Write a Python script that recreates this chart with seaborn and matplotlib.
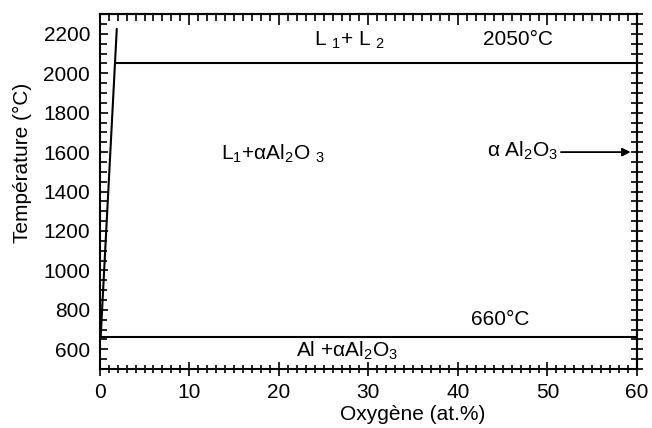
import matplotlib
matplotlib.use("Agg")
import matplotlib.pyplot as plt
import seaborn as sns
import pandas as pd
from matplotlib.ticker import MultipleLocator

sns.set_theme(style="white")
plt.rcParams['font.family'] = ['Liberation Sans', 'DejaVu Sans']
plt.rcParams['mathtext.fontset'] = 'custom'
plt.rcParams['mathtext.rm'] = 'Liberation Sans'
plt.rcParams['mathtext.it'] = 'Liberation Sans'
plt.rcParams['text.color'] = 'black'
plt.rcParams['axes.labelcolor'] = 'black'
plt.rcParams['xtick.color'] = 'black'
plt.rcParams['ytick.color'] = 'black'

# Data
liquidus_x = [0.1, 1.9]
liquidus_y = [660, 2225]
monotectic_x = [1.8, 60]
monotectic_y = [2050, 2050]
eutectic_x = [0, 60]
eutectic_y = [662, 662]
x_ticks = [0, 10, 20, 30, 40, 50, 60]
y_ticks = [600, 800, 1000, 1200, 1400, 1600, 1800, 2000, 2200]

fig = plt.figure(figsize=(6.52, 4.28), dpi=100)
ax = fig.add_axes([0.153, 0.138, 0.824, 0.829])

for xs, ys in [(liquidus_x, liquidus_y), (monotectic_x, monotectic_y), (eutectic_x, eutectic_y)]:
    df = pd.DataFrame({"x": xs, "y": ys})
    sns.lineplot(data=df, x="x", y="y", ax=ax, color="black", linewidth=1.5, sort=False)

ax.set_xlim(0, 60)
ax.set_ylim(500, 2300)
ax.set_xticks(x_ticks)
ax.set_yticks(y_ticks)
ax.xaxis.set_minor_locator(MultipleLocator(1))
ax.yaxis.set_minor_locator(MultipleLocator(50))
fs_tick = 15
ax.tick_params(axis="x", which="both", direction="inout", bottom=True, top=False, width=1.2)
ax.tick_params(axis="x", which="major", length=10, labelsize=fs_tick, pad=5)
ax.tick_params(axis="x", which="minor", length=6)
ax.tick_params(axis="y", which="both", direction="in", left=True, right=False, width=1.2)
ax.tick_params(axis="y", which="major", length=6, labelsize=fs_tick, pad=7)
ax.tick_params(axis="y", which="minor", length=5)

top = ax.secondary_xaxis("top")
top.set_xticks(x_ticks)
top.xaxis.set_minor_locator(MultipleLocator(1))
top.tick_params(which="both", direction="in", width=1.2, labeltop=False)
top.tick_params(which="major", length=8)
top.tick_params(which="minor", length=5)
right = ax.secondary_yaxis("right")
right.set_yticks(y_ticks)
right.yaxis.set_minor_locator(MultipleLocator(50))
right.tick_params(which="both", direction="inout", width=1.2, labelright=False, length=8)

for s in list(ax.spines.values()) + [top.spines["top"], right.spines["right"]]:
    s.set_color("black")
    s.set_linewidth(1.5)

ax.set_xlabel("Oxygène (at.%)", fontsize=15)
ax.set_ylabel("Température (°C)", fontsize=15)
ax.xaxis.set_label_coords(0.583, -0.102)
ax.yaxis.set_label_coords(-0.127, 0.58)

fs = 15
ax.text(27.9, 2140, r"L $_1$+ L $_2$", fontsize=fs, ha="center", va="baseline")
ax.text(46.7, 2143, "2050°C", fontsize=fs, ha="center", va="baseline")
ax.text(19.3, 1562, r"L$_1$+αAl$_2$O $_3$", fontsize=fs, ha="center", va="baseline")
ax.text(47.2, 1576, r"α Al$_2$O$_3$", fontsize=fs, ha="center", va="baseline")
ax.annotate("", xy=(59.6, 1600), xytext=(51.2, 1600),
            arrowprops=dict(arrowstyle="-|>", color="black", lw=1.3, mutation_scale=12))
ax.text(44.7, 723, "660°C", fontsize=fs, ha="center", va="baseline")
ax.text(27.6, 561, r"Al +αAl$_2$O$_3$", fontsize=fs, ha="center", va="baseline")

fig.savefig("out.png", dpi=100)
